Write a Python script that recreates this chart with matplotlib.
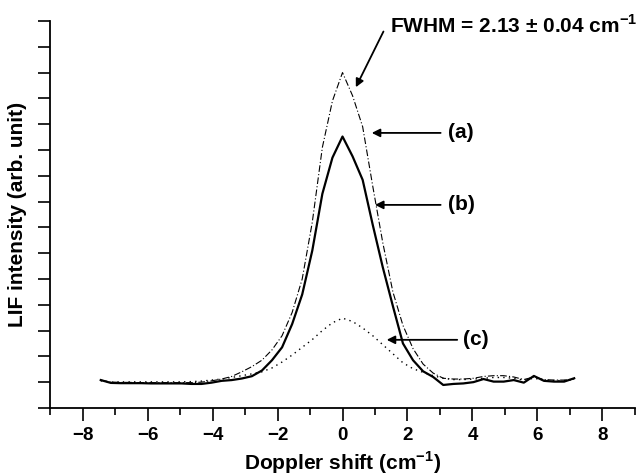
import matplotlib
matplotlib.use("Agg")
import matplotlib.pyplot as plt
from matplotlib.ticker import MultipleLocator

plt.rcParams['font.family'] = ['Liberation Sans', 'DejaVu Sans']
plt.rcParams['font.weight'] = 'bold'
plt.rcParams['mathtext.fontset'] = 'custom'
plt.rcParams['mathtext.rm'] = 'Liberation Sans:bold'
plt.rcParams['mathtext.bf'] = 'Liberation Sans:bold'
plt.rcParams['axes.unicode_minus'] = True

# Doppler shift grid (cm^-1), step ~0.31
shift = [-7.44, -7.13, -6.82, -6.51, -6.20, -5.89, -5.58, -5.27, -4.96, -4.65,
         -4.34, -4.03, -3.72, -3.41, -3.10, -2.79, -2.48, -2.17, -1.86, -1.55,
         -1.24, -0.93, -0.62, -0.31, 0.00, 0.31, 0.62, 0.93, 1.24, 1.55,
         1.86, 2.17, 2.48, 2.79, 3.10, 3.41, 3.72, 4.03, 4.34, 4.65,
         4.96, 5.27, 5.58, 5.89, 6.20, 6.51, 6.82, 7.13]

# (a) dash-dot
lif_a = [1.08, 1.00, 0.99, 0.99, 0.98, 0.98, 0.98, 0.98, 0.98, 0.98,
         1.00, 1.05, 1.12, 1.22, 1.40, 1.60, 1.85, 2.25, 2.80, 3.70,
         5.00, 7.20, 10.10, 11.90, 13.00, 12.10, 10.90, 8.60, 6.40, 4.50,
         3.20, 2.30, 1.70, 1.35, 1.15, 1.12, 1.12, 1.15, 1.22, 1.25,
         1.25, 1.20, 1.10, 1.20, 1.10, 1.08, 1.08, 1.12]

# (b) solid
lif_b = [1.08, 0.97, 0.96, 0.96, 0.96, 0.95, 0.95, 0.95, 0.95, 0.93,
         0.93, 0.98, 1.05, 1.08, 1.14, 1.23, 1.45, 1.85, 2.35, 3.25,
         4.40, 6.10, 8.30, 9.70, 10.52, 9.75, 8.84, 7.10, 5.45, 3.95,
         2.50, 1.85, 1.42, 1.20, 0.89, 0.93, 0.95, 1.00, 1.12, 1.02,
         1.02, 1.08, 0.98, 1.24, 1.05, 1.02, 1.02, 1.15]

# (c) dotted
lif_c = [1.05, 1.00, 1.01, 1.01, 1.01, 1.01, 1.01, 1.01, 1.01, 1.02,
         1.04, 1.08, 1.12, 1.18, 1.25, 1.32, 1.40, 1.55, 1.78, 2.05,
         2.35, 2.65, 3.00, 3.30, 3.48, 3.35, 3.10, 2.80, 2.45, 2.10,
         1.75, 1.52, 1.38, 1.25, 1.15, 1.10, 1.10, 1.12, 1.15, 1.18,
         1.18, 1.15, 1.08, 1.15, 1.08, 1.06, 1.06, 1.10]

fig = plt.figure(figsize=(6.42, 4.76), dpi=100)
ax = fig.add_axes([0.078, 0.143, 0.911, 0.813])

ax.plot(shift, lif_a, color='black', lw=0.8, ls=(0, (6, 2, 1, 2)))
ax.plot(shift, lif_b, color='black', lw=1.6, ls='-')
ax.plot(shift, lif_c, color='black', lw=1.0, ls=(0, (1, 3)))

ax.set_xlim(-9, 9)
ax.set_ylim(0, 15)
ax.xaxis.set_major_locator(MultipleLocator(2))
ax.xaxis.set_minor_locator(MultipleLocator(1))
ax.yaxis.set_major_locator(MultipleLocator(1))
ax.set_yticklabels([])
ax.tick_params(axis='x', which='major', direction='out', length=9, width=1.2,
               labelsize=13.5, pad=5)
ax.tick_params(axis='x', which='minor', direction='out', length=5, width=1.2)
ax.tick_params(axis='y', which='major', direction='out', length=9, width=1.2)
for lab in ax.get_xticklabels():
    lab.set_fontweight('bold')

for s in ['top', 'right']:
    ax.spines[s].set_visible(False)
for s in ['left', 'bottom']:
    ax.spines[s].set_linewidth(1.3)

ax.set_xlabel('Doppler shift (cm$^{-1}$)', fontsize=15, fontweight='bold')
ax.set_ylabel('LIF intensity (arb. unit)', fontsize=15, fontweight='bold')
ax.xaxis.set_label_coords(0.5, -0.142)
ax.xaxis.label.set_va('center')
ax.yaxis.set_label_coords(-0.055, 0.50)
ax.yaxis.label.set_va('center')

arrow = dict(arrowstyle='-|>', color='black', lw=1.3, mutation_scale=12,
             shrinkA=0, shrinkB=0)

ax.annotate('', xy=(0.41, 12.43), xytext=(1.26, 14.59), arrowprops=arrow)
ax.text(1.46, 14.84, 'FWHM = 2.13 ± 0.04 cm$^{-1}$', fontsize=15,
        fontweight='bold', va='center', ha='left', clip_on=False)

ax.annotate('', xy=(0.90, 10.66), xytext=(3.02, 10.66), arrowprops=arrow)
ax.text(3.25, 10.66, '(a)', fontsize=15, fontweight='bold', va='center', ha='left')

ax.annotate('', xy=(1.00, 7.87), xytext=(3.02, 7.87), arrowprops=arrow)
ax.text(3.25, 7.87, '(b)', fontsize=15, fontweight='bold', va='center', ha='left')

ax.annotate('', xy=(1.36, 2.64), xytext=(3.53, 2.64), arrowprops=arrow)
ax.text(3.71, 2.64, '(c)', fontsize=15, fontweight='bold', va='center', ha='left')

fig.savefig('out.png', dpi=100)
